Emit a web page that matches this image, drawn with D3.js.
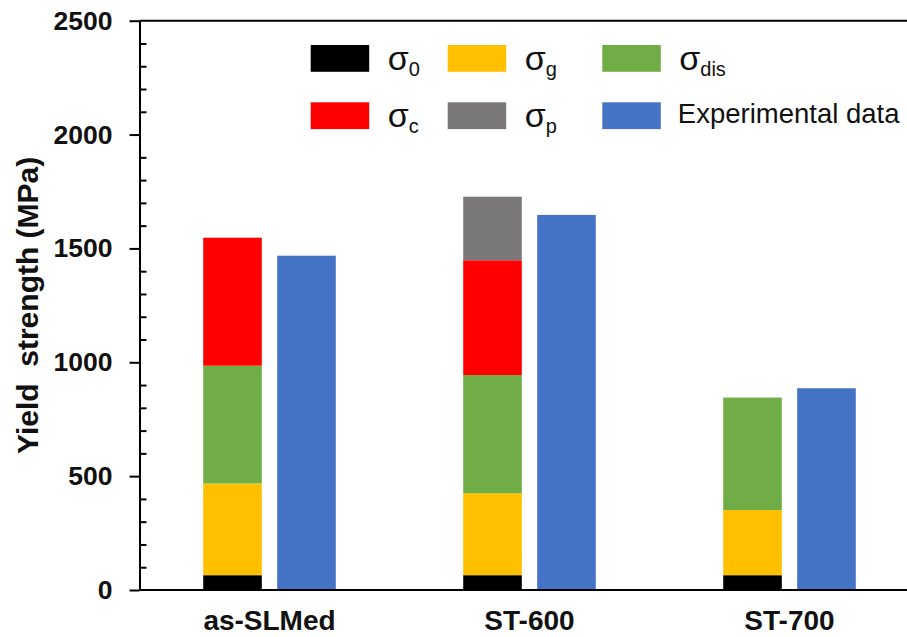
<!DOCTYPE html>
<html>
<head>
<meta charset="utf-8">
<script src="https://cdn.jsdelivr.net/npm/d3@7"></script>
<style>
  html, body { margin: 0; padding: 0; background: #fff; }
  svg { display: block; font-family: "Liberation Sans", Arial, sans-serif; }
</style>
</head>
<body>
<svg id="chart" width="907" height="637"></svg>
<script>
// Samples and strengthening contributions (MPa)
const categories = ["as-SLMed", "ST-600", "ST-700"];
const sigma0   = [65, 65, 65];
const sigmaG   = [403, 360, 286];
const sigmaDis = [517, 519, 494];
const sigmaC   = [562, 504, 0];
const sigmaP   = [0, 279, 0];
const experimental = [1468, 1647, 886];
const yTicks = [0, 500, 1000, 1500, 2000, 2500];

const stackKeys = ["s0", "sg", "sdis", "sc", "sp"];
const colors = {
  s0: "#000000", sg: "#FFC000", sdis: "#70AD47",
  sc: "#FF0000", sp: "#7A7878", exp: "#4472C4"
};

const rows = categories.map((c, i) => ({
  cat: c, s0: sigma0[i], sg: sigmaG[i], sdis: sigmaDis[i],
  sc: sigmaC[i], sp: sigmaP[i], exp: experimental[i]
}));

const svg = d3.select("#chart");
const plotLeft = 139.5, plotBottom = 590, plotTop = 20.7;

const x = d3.scaleBand().domain(categories).range([plotLeft, plotLeft + 780]);
const sub = d3.scaleBand().domain(["model", "exp"]).range([0, x.bandwidth()])
  .paddingInner(0.208).paddingOuter(0.861);
const y = d3.scaleLinear().domain([0, 2500]).range([plotBottom, plotTop]);

// Stacked model bars
const series = d3.stack().keys(stackKeys)(rows);
svg.append("g").selectAll("g").data(series).join("g")
  .attr("fill", d => colors[d.key])
  .selectAll("rect").data(d => d).join("rect")
  .attr("x", d => x(d.data.cat) + sub("model"))
  .attr("width", sub.bandwidth())
  .attr("y", d => y(d[1]))
  .attr("height", d => y(d[0]) - y(d[1]));

// Experimental bars
svg.append("g").selectAll("rect").data(rows).join("rect")
  .attr("fill", colors.exp)
  .attr("x", d => x(d.cat) + sub("exp"))
  .attr("width", sub.bandwidth())
  .attr("y", d => y(d.exp))
  .attr("height", d => y(0) - y(d.exp));

// Top frame line
svg.append("line")
  .attr("x1", plotLeft).attr("x2", 907).attr("y1", y(2500)).attr("y2", y(2500))
  .attr("stroke", "#000").attr("stroke-width", 2);

// X axis line
svg.append("line")
  .attr("x1", plotLeft).attr("x2", 907).attr("y1", y(0)).attr("y2", y(0))
  .attr("stroke", "#000").attr("stroke-width", 2);

// Category labels
svg.append("g").selectAll("text").data(categories).join("text")
  .attr("x", d => x(d) + x.bandwidth() / 2)
  .attr("y", 630)
  .attr("text-anchor", "middle")
  .attr("font-size", 28).attr("font-weight", "bold").attr("fill", "#111")
  .text(d => d);

// Minor ticks (inside)
const minor = d3.range(100, 2500, 100).filter(v => v % 500 !== 0);
svg.append("g").attr("transform", `translate(${plotLeft},0)`)
  .call(d3.axisRight(y).tickValues(minor).tickSize(7).tickFormat(""))
  .call(g => g.select(".domain").remove())
  .call(g => g.selectAll("line").attr("stroke", "#000").attr("stroke-width", 2));

// Y axis with major ticks (outside)
svg.append("g").attr("transform", `translate(${plotLeft},0)`)
  .call(d3.axisLeft(y).tickValues(yTicks).tickFormat(d3.format("d"))
    .tickSize(10).tickSizeOuter(0).tickPadding(17))
  .call(g => g.select(".domain").attr("stroke", "#000").attr("stroke-width", 2))
  .call(g => g.selectAll("line").attr("stroke", "#000").attr("stroke-width", 2))
  .call(g => g.selectAll("text")
    .attr("font-size", 26.5).attr("font-weight", "bold").attr("fill", "#111")
    .attr("font-family", "'Liberation Sans', Arial, sans-serif"));

// Y axis title
svg.append("text")
  .attr("transform", `translate(38,${(456.7 + 154) / 2}) rotate(-90)`)
  .attr("text-anchor", "middle")
  .attr("font-size", 30).attr("font-weight", "bold").attr("fill", "#111")
  .attr("xml:space", "preserve")
  .text("Yield  strength (MPa)");

// Legend
const legendItems = [
  { key: "s0",   sub: "0",   col: 0, row: 0 },
  { key: "sg",   sub: "g",   col: 1, row: 0 },
  { key: "sdis", sub: "dis", col: 2, row: 0 },
  { key: "sc",   sub: "c",   col: 0, row: 1 },
  { key: "sp",   sub: "p",   col: 1, row: 1 },
  { key: "exp",  label: "Experimental data", col: 2, row: 1 }
];
const colX = [310.7, 447.7, 602.3];
const rowY = [45, 102.3];
const lg = svg.append("g").selectAll("g").data(legendItems).join("g")
  .attr("transform", d => `translate(${colX[d.col]},${rowY[d.row]})`);
lg.append("rect")
  .attr("width", 58.5).attr("height", 26.8)
  .attr("fill", d => colors[d.key]);
lg.append("text")
  .attr("x", d => d.label ? 75.5 : 77)
  .attr("y", d => d.label ? 21 : 25)
  .attr("font-size", 27.5).attr("fill", "#111")
  .each(function(d) {
    const t = d3.select(this);
    if (d.label) { t.text(d.label); return; }
    t.append("tspan").attr("font-size", 34).text("σ");
    t.append("tspan").attr("dy", 6).attr("font-size", 20).text(d.sub);
  });
</script>
</body>
</html>
